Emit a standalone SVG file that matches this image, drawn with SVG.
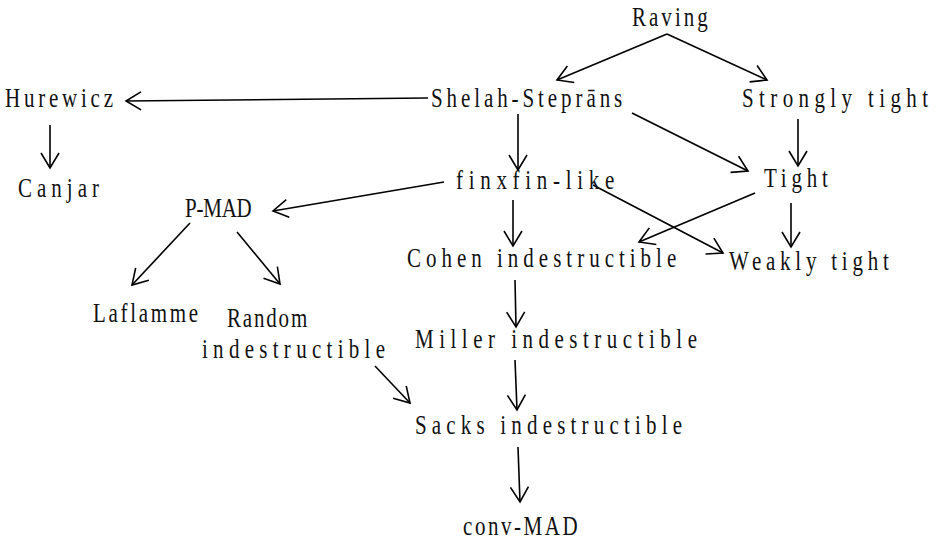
<svg xmlns="http://www.w3.org/2000/svg" width="936" height="541" viewBox="0 0 936 541">
<defs>
<style>
text{font-family:"Liberation Serif","Times New Roman",serif;font-size:28px;fill:#111;}
.c line{stroke:#000;stroke-width:1.6;marker-end:url(#ah);}
</style>
<marker id="ah" viewBox="-17 -11 19 22" markerWidth="19" markerHeight="22" refX="0" refY="0" orient="auto" markerUnits="userSpaceOnUse">
<path d="M-15,-9 L0,0 L-15,9" fill="none" stroke="#000" stroke-width="1.6"/>
</marker>
</defs>
<rect width="936" height="541" fill="#fff"/>
<g class="c" id="connectors">
<line x1="667" y1="34" x2="557" y2="80"/>
<line x1="667" y1="34" x2="767" y2="80"/>
<line x1="428" y1="98" x2="126" y2="101"/>
<line x1="50" y1="125" x2="50" y2="168"/>
<line x1="518" y1="114" x2="518" y2="170"/>
<line x1="632" y1="113" x2="748" y2="171"/>
<line x1="798" y1="119" x2="798" y2="166"/>
<line x1="755" y1="193" x2="639" y2="242"/>
<line x1="593" y1="185" x2="723" y2="253"/>
<line x1="791" y1="203" x2="791" y2="247"/>
<line x1="444" y1="182" x2="273" y2="211"/>
<line x1="513" y1="200" x2="513" y2="246"/>
<line x1="190" y1="223" x2="132" y2="285"/>
<line x1="237" y1="232" x2="280" y2="284"/>
<line x1="375" y1="366" x2="410" y2="403"/>
<line x1="515" y1="280" x2="516" y2="327"/>
<line x1="515" y1="360" x2="517" y2="410"/>
<line x1="518" y1="447" x2="520" y2="502"/>
</g>
<g id="raving"><text transform="translate(632,26) scale(0.75,1)" textLength="101">Raving</text></g>
<g id="shelah"><text transform="translate(431,107) scale(0.75,1)" textLength="255">Shelah-Steprāns</text></g>
<g id="strongly"><text transform="translate(742,107) scale(0.75,1)" textLength="248">Strongly tight</text></g>
<g id="hurewicz"><text transform="translate(5,107) scale(0.75,1)" textLength="144">Hurewicz</text></g>
<g id="canjar"><text transform="translate(18,197) scale(0.75,1)" textLength="108">Canjar</text></g>
<g id="finxfin"><text transform="translate(456,189) scale(0.75,1)" textLength="211">finxfin-like</text></g>
<g id="tight"><text transform="translate(764,187) scale(0.75,1)" textLength="85">Tight</text></g>
<g id="pmad"><text transform="translate(185,217) scale(0.75,1)" textLength="89">P-MAD</text></g>
<g id="cohen"><text transform="translate(407,267) scale(0.75,1)" textLength="359">Cohen indestructible</text></g>
<g id="weakly"><text transform="translate(729,270) scale(0.75,1)" textLength="213">Weakly tight</text></g>
<g id="laflamme"><text transform="translate(93,322) scale(0.75,1)" textLength="140">Laflamme</text></g>
<g id="random"><text transform="translate(227,327) scale(0.75,1)" textLength="107">Random</text><text transform="translate(202,358) scale(0.75,1)" textLength="244">indestructible</text></g>
<g id="miller"><text transform="translate(415,348) scale(0.75,1)" textLength="376">Miller indestructible</text></g>
<g id="sacks"><text transform="translate(415,434) scale(0.75,1)" textLength="356">Sacks indestructible</text></g>
<g id="convmad"><text transform="translate(463,535) scale(0.75,1)" textLength="153">conv-MAD</text></g>
</svg>
